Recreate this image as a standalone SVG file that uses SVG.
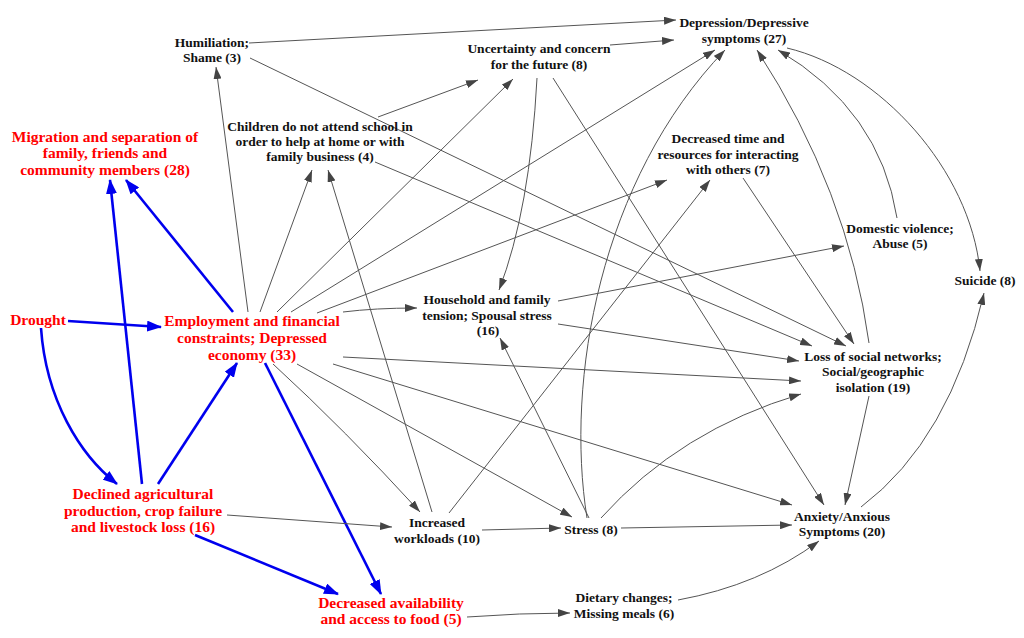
<svg xmlns="http://www.w3.org/2000/svg" width="1024" height="638" viewBox="0 0 1024 638">
<defs>
<marker id="ag" markerUnits="userSpaceOnUse" markerWidth="12" markerHeight="8" viewBox="0 0 12 8" refX="12" refY="4" orient="auto"><path d="M0,0 L12,4 L0,8 z" fill="#444"/></marker>
<marker id="ab" markerUnits="userSpaceOnUse" markerWidth="15" markerHeight="11" viewBox="0 0 15 11" refX="14" refY="5.5" orient="auto"><path d="M0,0 L15,5.5 L0,11 z" fill="#0000ee"/></marker>
<style>
text{font-family:'Liberation Serif','Times New Roman',Tinos,'DejaVu Serif','Noto Serif',serif;font-weight:bold;text-anchor:middle}
.n{font-size:13.5px;fill:#111}
.r{font-size:15.5px;fill:#ff0000}
.e{fill:none;stroke:#555;stroke-width:1;marker-end:url(#ag)}
.b{fill:none;stroke:#0000ee;stroke-width:2.6;marker-end:url(#ab)}
</style>
</defs>
<rect width="1024" height="638" fill="#fff"/>
<g id="connectors">
<path class="b" d="M68,321 L161,327"/>
<path class="b" d="M41,328 C46,400 80,455 117,484"/>
<path class="b" d="M142,484 L110,180"/>
<path class="b" d="M233,312 L126,180"/>
<path class="b" d="M158,484 L237,363"/>
<path class="b" d="M265,363 L381,594"/>
<path class="b" d="M195,535 L338,594"/>
<path class="e" d="M249,43 L676,20"/>
<path class="e" d="M250,58 L846,346"/>
<path class="e" d="M248,312 L216,67"/>
<path class="e" d="M260,312 L312,170"/>
<path class="e" d="M277,312 L513,79"/>
<path class="e" d="M291,312 L715,50"/>
<path class="e" d="M317,313 L667,180"/>
<path class="e" d="M343,312 Q375,308 417,308"/>
<path class="e" d="M343,357 L801,381"/>
<path class="e" d="M333,364 L792,505"/>
<path class="e" d="M297,364 L572,517"/>
<path class="e" d="M273,364 Q345,430 420,512"/>
<path class="e" d="M378,117 L478,80"/>
<path class="e" d="M375,162 L812,346"/>
<path class="e" d="M432,512 L328,170"/>
<path class="e" d="M610,45 L674,40"/>
<path class="e" d="M537,78 Q530,210 499,290"/>
<path class="e" d="M553,78 L824,505"/>
<path class="e" d="M449,513 L710,180"/>
<path class="e" d="M743,178 L854,344"/>
<path class="e" d="M558,301 L844,246"/>
<path class="e" d="M558,324 L799,361"/>
<path class="e" d="M589,518 L500,338"/>
<path class="e" d="M587,518 C565,380 600,180 725,50"/>
<path class="e" d="M601,518 Q680,430 801,394"/>
<path class="e" d="M621,528 L792,525"/>
<path class="e" d="M482,530 L561,528"/>
<path class="e" d="M227,515 L392,527"/>
<path class="e" d="M869,343 Q848,190 757,50"/>
<path class="e" d="M869,396 L845,505"/>
<path class="e" d="M897,218 Q880,110 778,50"/>
<path class="e" d="M787,48 C880,70 970,170 980,271"/>
<path class="e" d="M861,507 Q950,440 984,293"/>
<path class="e" d="M467,617 Q520,613 570,613"/>
<path class="e" d="M678,600 Q760,585 819,541"/>
</g>
<g id="n-humiliation"><text class="n" x="212" y="47">Humiliation;</text><text class="n" x="212" y="62">Shame (3)</text></g>
<g id="n-depression"><text class="n" x="744" y="27">Depression/Depressive</text><text class="n" x="744" y="43">symptoms (27)</text></g>
<g id="n-uncertainty"><text class="n" x="539" y="53">Uncertainty and concern</text><text class="n" x="539" y="69">for the future (8)</text></g>
<g id="n-children"><text class="n" x="320" y="131">Children do not attend school in</text><text class="n" x="320" y="146">order to help at home or with</text><text class="n" x="320" y="161">family business (4)</text></g>
<g id="n-time"><text class="n" x="728" y="143">Decreased time and</text><text class="n" x="728" y="159">resources for interacting</text><text class="n" x="728" y="174">with others (7)</text></g>
<g id="n-migration"><text class="r" x="105" y="142">Migration and separation of</text><text class="r" x="105" y="158">family, friends and</text><text class="r" x="105" y="175">community members (28)</text></g>
<g id="n-domestic"><text class="n" x="900" y="233">Domestic violence;</text><text class="n" x="900" y="248">Abuse (5)</text></g>
<g id="n-suicide"><text class="n" x="985" y="285">Suicide (8)</text></g>
<g id="n-drought"><text class="r" x="38" y="325">Drought</text></g>
<g id="n-employment"><text class="r" x="252" y="326">Employment and financial</text><text class="r" x="252" y="343">constraints; Depressed</text><text class="r" x="252" y="360">economy (33)</text></g>
<g id="n-household"><text class="n" x="487" y="304">Household and family</text><text class="n" x="487" y="320">tension; Spousal stress</text><text class="n" x="488" y="335">(16)</text></g>
<g id="n-loss"><text class="n" x="873" y="361">Loss of social networks;</text><text class="n" x="873" y="376">Social/geographic</text><text class="n" x="873" y="392">isolation (19)</text></g>
<g id="n-declined"><text class="r" x="143" y="499">Declined agricultural</text><text class="r" x="143" y="516">production, crop failure</text><text class="r" x="143" y="532">and livestock loss (16)</text></g>
<g id="n-workloads"><text class="n" x="437" y="527">Increased</text><text class="n" x="437" y="543">workloads (10)</text></g>
<g id="n-stress"><text class="n" x="591" y="534">Stress (8)</text></g>
<g id="n-anxiety"><text class="n" x="842" y="521">Anxiety/Anxious</text><text class="n" x="842" y="536">Symptoms (20)</text></g>
<g id="n-food"><text class="r" x="391" y="608">Decreased availability</text><text class="r" x="391" y="624">and access to food (5)</text></g>
<g id="n-dietary"><text class="n" x="624" y="602">Dietary changes;</text><text class="n" x="624" y="618">Missing meals (6)</text></g>
</svg>
